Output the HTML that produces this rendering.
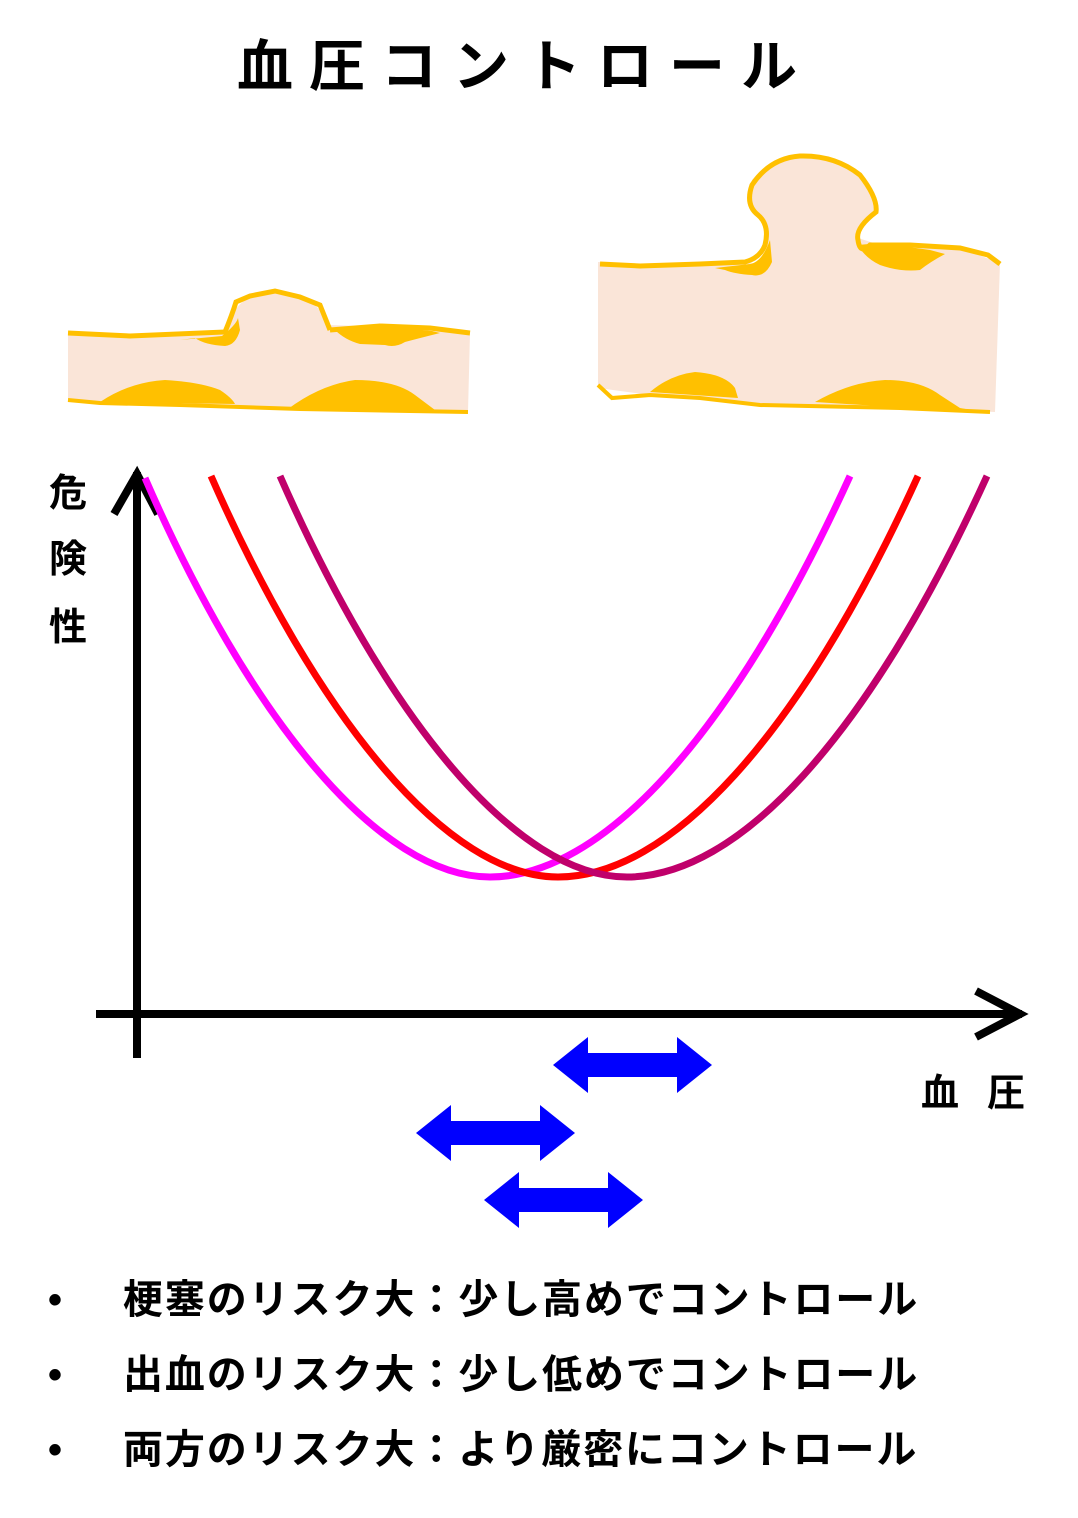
<!DOCTYPE html>
<html><head><meta charset="utf-8"><style>
html,body{margin:0;padding:0;background:#fff;}
svg{display:block;}
text{font-family:"Liberation Sans","Noto Sans CJK JP",sans-serif;font-weight:bold;fill:#000;}
</style></head><body>
<svg width="1078" height="1518" viewBox="0 0 1078 1518" xmlns="http://www.w3.org/2000/svg">
<text x="525" y="86" font-size="56" text-anchor="middle" letter-spacing="16">血圧コントロール</text>

<!-- small vessel -->
<path d="M68 333 L130 335 L225 332 Q235 300 255 296 L275 292 L300 297 Q322 305 328 325 L360 326 L420 328 L470 333 L468 412 L300 409 L180 405 L100 403 L68 400 Z" fill="#fae5d8"/>
<path d="M68 333 L130 336 L225 332 Q232 315 236 302 L250 296 L275 291 L300 297 L320 305 L330 330" fill="none" stroke="#ffc000" stroke-width="5"/>
<path d="M330 330 L380 326 L430 328 L470 333" fill="none" stroke="#ffc000" stroke-width="5"/>
<path d="M180 340 L222 336 Q236 325 238 318 L240 330 Q236 345 225 346 Q205 345 195 338 Z" fill="#ffc000"/>
<path d="M330 328 L375 325 L432 331 L440 333 Q420 338 405 342 Q395 348 385 345 L360 344 Q345 340 335 330 Z" fill="#ffc000"/>
<path d="M100 402 Q130 382 165 380 Q200 382 220 390 Q232 398 235 404 Z" fill="#ffc000"/>
<path d="M288 409 Q320 385 355 380 Q395 380 415 395 L435 410 L460 413 Z" fill="#ffc000"/>
<path d="M68 400 L100 403 L180 405 L300 409 L468 412" fill="none" stroke="#ffc000" stroke-width="4"/>

<!-- large vessel -->
<path d="M598 262 L660 265 L760 263 Q772 240 765 225 Q745 205 752 180 Q770 158 800 155 Q835 155 860 175 Q878 198 876 212 Q860 228 858 238 L880 245 L960 248 L1000 263 L995 412 L900 408 L760 405 L650 395 L598 388 Z" fill="#fae5d8"/>
<path d="M600 264 L640 266 L700 264 L745 262 Q760 258 765 245 Q770 225 758 215 Q745 205 752 185 Q770 158 800 156 Q835 155 860 175 Q878 198 876 212 Q855 228 858 240 Q860 255 870 245 L910 245 L960 248 L988 255 L1000 264" fill="none" stroke="#ffc000" stroke-width="5"/>
<path d="M715 268 L750 264 Q762 262 770 240 L772 262 Q765 278 752 275 Q735 274 725 270 Z" fill="#ffc000"/>
<path d="M858 245 L880 243 L930 250 L945 254 Q930 262 920 270 Q900 272 880 265 Q865 258 858 245 Z" fill="#ffc000"/>
<path d="M650 392 Q670 375 695 372 Q725 374 735 388 L738 398 Z" fill="#ffc000"/>
<path d="M815 402 Q850 382 885 380 Q920 380 940 395 L960 408 L988 413 Z" fill="#ffc000"/>
<path d="M598 385 L612 398 L650 395 L700 398 L760 405 L900 408 L990 412" fill="none" stroke="#ffc000" stroke-width="4"/>

<!-- axes -->
<line x1="137" y1="472" x2="137" y2="1058" stroke="#000" stroke-width="8"/>
<polyline points="114,514 137,474 158,514" fill="none" stroke="#000" stroke-width="8"/>
<line x1="96" y1="1014" x2="1022" y2="1014" stroke="#000" stroke-width="8"/>
<polyline points="976,991 1020,1014 976,1037" fill="none" stroke="#000" stroke-width="8"/>
<text x="68" y="506" font-size="38" text-anchor="middle">危</text>
<text x="68" y="572" font-size="38" text-anchor="middle">険</text>
<text x="68" y="640" font-size="38" text-anchor="middle">性</text>
<text x="921" y="1106" font-size="38" letter-spacing="28">血圧</text>

<!-- curves -->
<path d="M145 478 C250 720 380 877 490 877 C600 877 730 740 850 476" fill="none" stroke="#ff00ff" stroke-width="7"/>
<path d="M211 476 C318 720 448 877 558 877 C668 877 798 740 918 476" fill="none" stroke="#ff0000" stroke-width="7"/>
<path d="M280 476 C387 720 517 877 627 877 C737 877 867 740 987 476" fill="none" stroke="#c0006b" stroke-width="7"/>

<!-- blue arrows -->
<g fill="#0000ff">
<path d="M553 1065 L588 1037 L588 1053 L677 1053 L677 1037 L712 1065 L677 1093 L677 1077 L588 1077 L588 1093 Z"/>
<path d="M416 1133 L451 1105 L451 1121 L540 1121 L540 1105 L575 1133 L540 1161 L540 1145 L451 1145 L451 1161 Z"/>
<path d="M484 1200 L519 1172 L519 1188 L608 1188 L608 1172 L643 1200 L608 1228 L608 1212 L519 1212 L519 1228 Z"/>
</g>

<!-- bullets -->
<g font-size="40" letter-spacing="1.9">
<text x="48" y="1313">•</text>
<text x="123" y="1313">梗塞のリスク大：少し高めでコントロール</text>
<text x="48" y="1388">•</text>
<text x="123" y="1388">出血のリスク大：少し低めでコントロール</text>
<text x="48" y="1463">•</text>
<text x="123" y="1463">両方のリスク大：より厳密にコントロール</text>
</g>
</svg>
</body></html>
